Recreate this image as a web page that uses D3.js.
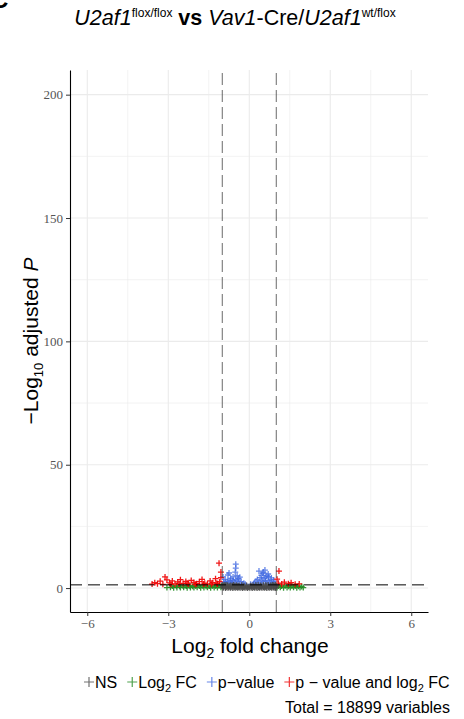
<!DOCTYPE html>
<html>
<head>
<meta charset="utf-8">
<script src="https://cdn.jsdelivr.net/npm/d3@7"></script>
<style>
  body { margin: 0; background: #fff; }
  svg { display: block; }
</style>
</head>
<body>
<div id="chart"></div>
<script>
// values: [log2 fold change, -log10 adjusted p]
const nsPoints = [
  [-0.97,0.1],[-0.88,0.05],[-0.79,0.15],[-0.7,0.1],[-0.61,0.05],[-0.52,0.12],[-0.43,0.08],[-0.34,0.1],
  [-0.25,0.05],[-0.16,0.12],[-0.07,0.05],[0.02,0.1],[0.11,0.06],[0.2,0.12],[0.29,0.05],[0.38,0.1],
  [0.47,0.08],[0.56,0.12],[0.65,0.05],[0.74,0.1],[0.83,0.08],[0.92,0.12],[0.98,0.05],
  [-0.95,0.35],[-0.86,0.3],[-0.76,0.38],[-0.67,0.32],[-0.57,0.3],[-0.48,0.36],[-0.39,0.3],[-0.3,0.34],
  [-0.21,0.3],[-0.12,0.32],[-0.03,0.3],[0.07,0.33],[0.16,0.3],[0.25,0.36],[0.34,0.3],[0.43,0.34],
  [0.52,0.3],[0.61,0.37],[0.7,0.32],[0.79,0.3],[0.88,0.35],[0.97,0.3],
  [-0.94,0.6],[-0.84,0.55],[-0.73,0.65],[-0.63,0.6],[-0.55,0.5],[-0.46,0.62],[-0.37,0.55],[-0.27,0.6],
  [-0.18,0.5],[-0.09,0.58],[0.0,0.52],[0.09,0.6],[0.18,0.55],[0.27,0.62],[0.36,0.5],[0.45,0.6],
  [0.54,0.55],[0.63,0.65],[0.72,0.58],[0.81,0.6],[0.9,0.52],[0.96,0.62],
  [-0.97,0.9],[-0.89,0.95],[-0.8,0.85],[-0.71,0.9],[-0.62,0.95],[-0.53,0.85],[-0.42,0.8],
  [0.42,0.8],[0.53,0.9],[0.62,0.95],[0.71,0.85],[0.8,0.9],[0.89,0.95],[0.97,0.88],
  [-0.92,1.1],[-0.8,1.15],[-0.68,1.05],[-0.58,1.2],[-0.48,1.1],[-0.38,1.0],[-0.28,1.15],[-0.2,0.95],
  [-0.1,1.05],[0.05,0.9],[0.14,1.0],[0.24,1.1],[0.33,1.2],[0.42,1.05],[0.52,1.15],[0.61,1.1],
  [0.7,1.2],[0.79,1.05],[0.88,1.15],[0.95,1.1],[-0.98,1.25],[-0.86,1.28],[0.86,1.27],[0.98,1.25]
];
const fcPoints = [
  [-3.05,0.2],[-2.92,0.3],[-2.8,0.15],[-2.68,0.25],[-2.55,0.2],[-2.43,0.3],[-2.3,0.1],[-2.18,0.25],
  [-2.05,0.2],[-1.93,0.3],[-1.8,0.15],[-1.68,0.2],[-1.55,0.3],[-1.43,0.1],[-1.3,0.25],[-1.18,0.2],
  [-1.05,0.3],
  [-2.85,0.8],[-2.7,0.9],[-2.58,0.75],[-2.45,0.85],[-2.33,0.8],[-2.2,0.95],[-2.1,0.7],[-1.98,0.85],
  [-1.85,0.8],[-1.72,0.9],[-1.6,0.75],[-1.48,0.85],[-1.36,0.9],[-1.24,0.8],[-1.12,0.95],[-1.03,0.85],
  [1.03,0.2],[1.15,0.3],[1.27,0.15],[1.4,0.25],[1.52,0.2],[1.64,0.3],[1.76,0.15],[1.88,0.25],[2.0,0.2],
  [1.08,0.85],[1.2,0.8],[1.33,0.9],[1.46,0.75],[1.58,0.85],[1.7,0.8],[1.82,0.7],[1.94,0.6]
];
const pPoints = [
  [-0.5,9.7],[-0.5,8.1],[-0.52,6.5],[-0.75,6.1],[-0.79,5.3],[-0.97,4.5],[-0.45,5.0],[-0.6,4.5],
  [-0.9,3.5],[-0.8,2.8],[-0.7,3.2],[-0.4,3.8],[-0.3,2.6],[-0.2,2.0],[-0.95,2.2],[-0.85,1.8],
  [-0.65,2.0],[-0.55,2.4],[-0.45,1.8],[-0.35,1.6],[-0.25,1.5],[-0.6,3.0],[-0.5,3.5],[-0.35,4.4],
  [-0.75,2.4],[-0.88,2.6],[-0.62,1.6],[-0.15,1.5],[-0.68,3.9],[-0.42,2.9],
  [0.36,6.9],[0.52,6.5],[0.58,7.3],[0.7,5.7],[0.5,6.0],[0.45,5.2],[0.65,5.0],[0.72,4.6],
  [0.4,4.2],[0.3,3.5],[0.55,3.8],[0.8,3.4],[0.9,2.6],[0.6,2.8],[0.2,2.2],[0.15,1.6],
  [0.35,2.0],[0.75,2.2],[0.85,1.8],[0.95,1.6],[0.5,2.5],[0.25,2.8],[0.65,1.7],[0.45,3.0],
  [0.82,4.1],[0.6,4.3],[0.9,3.2],[0.05,1.5],[0.4,1.5],[0.7,3.0]
];
const bothPoints = [
  [-3.6,1.6],[-3.5,2.2],[-3.4,1.8],[-3.3,2.8],[-3.2,1.5],[-3.12,4.5],[-3.05,3.3],[-2.95,2.1],
  [-2.85,2.9],[-2.75,1.7],[-2.65,2.5],[-2.55,3.4],[-2.45,1.9],[-2.35,2.7],[-2.25,1.6],[-2.15,3.1],
  [-2.05,2.3],[-1.95,1.8],[-1.85,2.6],[-1.75,3.5],[-1.65,2.0],[-1.55,1.6],[-1.45,2.9],[-1.35,2.2],
  [-1.25,3.8],[-1.18,1.7],[-1.1,2.6],[-1.05,4.2],[-1.12,10.1],[-1.05,6.5],
  [-2.9,1.5],[-2.6,1.6],[-2.3,2.0],[-2.0,1.5],[-1.7,1.6],[-1.4,1.5],[-1.2,2.0],
  [1.1,6.9],[1.03,3.6],[1.08,2.0],[1.2,1.6],[1.3,2.4],[1.45,1.8],[1.55,2.2],[1.7,1.5],[1.85,1.7]
];

const xTicks = [-6, -3, 0, 3, 6];
const yTicks = [0, 50, 100, 150, 200];
const xMinor = [-4.5, -1.5, 1.5, 4.5];
const yMinor = [25, 75, 125, 175];
const fcCutoff = 1;
const pCutoff = 0.05;
const totalVariables = 18899;
const groupColors = ['#4d4d4d', '#228b22', '#4169e1', '#ee0000'];

const width = 464, height = 719;
const margin = {top: 70, right: 36, bottom: 107, left: 70};

const svg = d3.select('#chart').append('svg')
  .attr('width', width)
  .attr('height', height)
  .style('font-family', '"Liberation Sans", Arial, sans-serif');

const x = d3.scaleLinear().domain([-6.64, 6.62]).range([margin.left, width - margin.right]);
const y = d3.scaleLinear().domain([-9.7, 210]).range([height - margin.bottom, margin.top]);

// grid
const grid = svg.append('g').attr('stroke', '#ebebeb');
grid.selectAll('.vmin').data(xMinor).enter().append('line')
  .attr('x1', d => x(d)).attr('x2', d => x(d))
  .attr('y1', y.range()[0]).attr('y2', y.range()[1]).attr('stroke-width', 0.6);
grid.selectAll('.hmin').data(yMinor).enter().append('line')
  .attr('y1', d => y(d)).attr('y2', d => y(d))
  .attr('x1', x.range()[0]).attr('x2', x.range()[1]).attr('stroke-width', 0.6);
grid.selectAll('.vmaj').data(xTicks).enter().append('line')
  .attr('x1', d => x(d)).attr('x2', d => x(d))
  .attr('y1', y.range()[0]).attr('y2', y.range()[1]).attr('stroke-width', 1.1);
grid.selectAll('.hmaj').data(yTicks).enter().append('line')
  .attr('y1', d => y(d)).attr('y2', d => y(d))
  .attr('x1', x.range()[0]).attr('x2', x.range()[1]).attr('stroke-width', 1.1);

// points: green, blue, red, then the grey band on top
const plus = 'M-3,0H3M0,-3V3';
const layers = [[fcPoints, 1], [pPoints, 2], [bothPoints, 3], [nsPoints, 0]];
layers.forEach(([pts, i]) => {
  svg.append('g')
    .selectAll('path')
    .data(pts)
    .enter()
    .append('path')
    .attr('d', plus)
    .attr('transform', d => `translate(${x(d[0])},${y(d[1])})`)
    .attr('stroke', groupColors[i])
    .attr('stroke-width', 1.3)
    .attr('stroke-opacity', i === 2 ? 0.8 : 0.9)
    .attr('fill', 'none');
});

// cutoff lines
svg.selectAll('.vcut').data([-fcCutoff, fcCutoff]).enter().append('line')
  .attr('x1', d => x(d)).attr('x2', d => x(d))
  .attr('y1', y.range()[0]).attr('y2', y.range()[1])
  .attr('stroke', '#444').attr('stroke-width', 0.8)
  .attr('stroke-dasharray', '12,5');
svg.append('line')
  .attr('x1', x.range()[0]).attr('x2', x.range()[1])
  .attr('y1', y(-Math.log10(pCutoff))).attr('y2', y(-Math.log10(pCutoff)))
  .attr('stroke', '#000').attr('stroke-width', 1)
  .attr('stroke-dasharray', '12,6');

// axes
const xAxis = svg.append('g')
  .attr('transform', `translate(0,${y.range()[0]})`)
  .call(d3.axisBottom(x).tickValues(xTicks).tickSize(4).tickSizeOuter(0).tickPadding(3));
const yAxis = svg.append('g')
  .attr('transform', `translate(${x.range()[0]},0)`)
  .call(d3.axisLeft(y).tickValues(yTicks).tickSize(4).tickSizeOuter(0).tickPadding(3));
[xAxis, yAxis].forEach(a => {
  a.select('.domain').attr('stroke', '#000').attr('stroke-width', 1.1);
  a.selectAll('.tick line').attr('stroke', '#333');
  a.selectAll('.tick text')
    .attr('fill', null)
    .style('fill', '#555555')
    .style('font-family', '"Liberation Serif", "Times New Roman", serif')
    .style('font-size', '13px');
});

// title
const title = svg.append('text')
  .attr('x', 235).attr('y', 25)
  .attr('text-anchor', 'middle')
  .style('font-size', '21.5px');
title.append('tspan').style('font-style', 'italic').text('U2af1');
title.append('tspan').attr('dy', -8).style('font-size', '12px').text('flox/flox');
title.append('tspan').attr('dy', 8).style('font-weight', 'bold').text(' vs ');
title.append('tspan').style('font-style', 'italic').text('Vav1');
title.append('tspan').text('-Cre/');
title.append('tspan').style('font-style', 'italic').text('U2af1');
title.append('tspan').attr('dy', -8).style('font-size', '12px').text('wt/flox');

// panel letter cut at the corner
svg.append('text').attr('x', -9).attr('y', 8)
  .style('font-size', '24px').style('font-weight', 'bold').text('C');

// axis titles
const xl = svg.append('text')
  .attr('x', 250).attr('y', 653)
  .attr('text-anchor', 'middle')
  .style('font-size', '21px');
xl.append('tspan').text('Log');
xl.append('tspan').attr('dy', 5).style('font-size', '14px').text('2');
xl.append('tspan').attr('dy', -5).text(' fold change');

const yl = svg.append('text')
  .attr('transform', `translate(38,${(y.range()[0] + y.range()[1]) / 2}) rotate(-90)`)
  .attr('text-anchor', 'middle')
  .style('font-size', '21px');
yl.append('tspan').text('\u2212Log');
yl.append('tspan').attr('dy', 5).style('font-size', '13px').text('10');
yl.append('tspan').attr('dy', -5).text(' adjusted ');
yl.append('tspan').style('font-style', 'italic').text('P');

// legend
const legendItems = [
  {label: ['NS'], color: groupColors[0]},
  {label: ['Log', '2', ' FC'], color: groupColors[1]},
  {label: ['p\u2212value'], color: groupColors[2]},
  {label: ['p \u2212 value and log', '2', ' FC'], color: groupColors[3]}
];
let lx = 84;
const ly = 682;
legendItems.forEach(item => {
  svg.append('path')
    .attr('d', 'M-5,0H5M0,-5V5')
    .attr('transform', `translate(${lx + 5},${ly})`)
    .attr('stroke', item.color).attr('stroke-opacity', 0.8)
    .attr('stroke-width', 1.2);
  const t = svg.append('text')
    .attr('x', lx + 11).attr('y', ly + 6)
    .style('font-size', '16px');
  item.label.forEach((s, i) => {
    const sp = t.append('tspan').text(s);
    if (i === 1) sp.attr('dy', 4).style('font-size', '11px');
    if (i === 2) sp.attr('dy', -4);
  });
  lx += 11 + t.node().getComputedTextLength() + 10;
});

svg.append('text')
  .attr('x', 450).attr('y', 713)
  .attr('text-anchor', 'end')
  .style('font-size', '16px')
  .text(`Total = ${totalVariables} variables`);
</script>
</body>
</html>
